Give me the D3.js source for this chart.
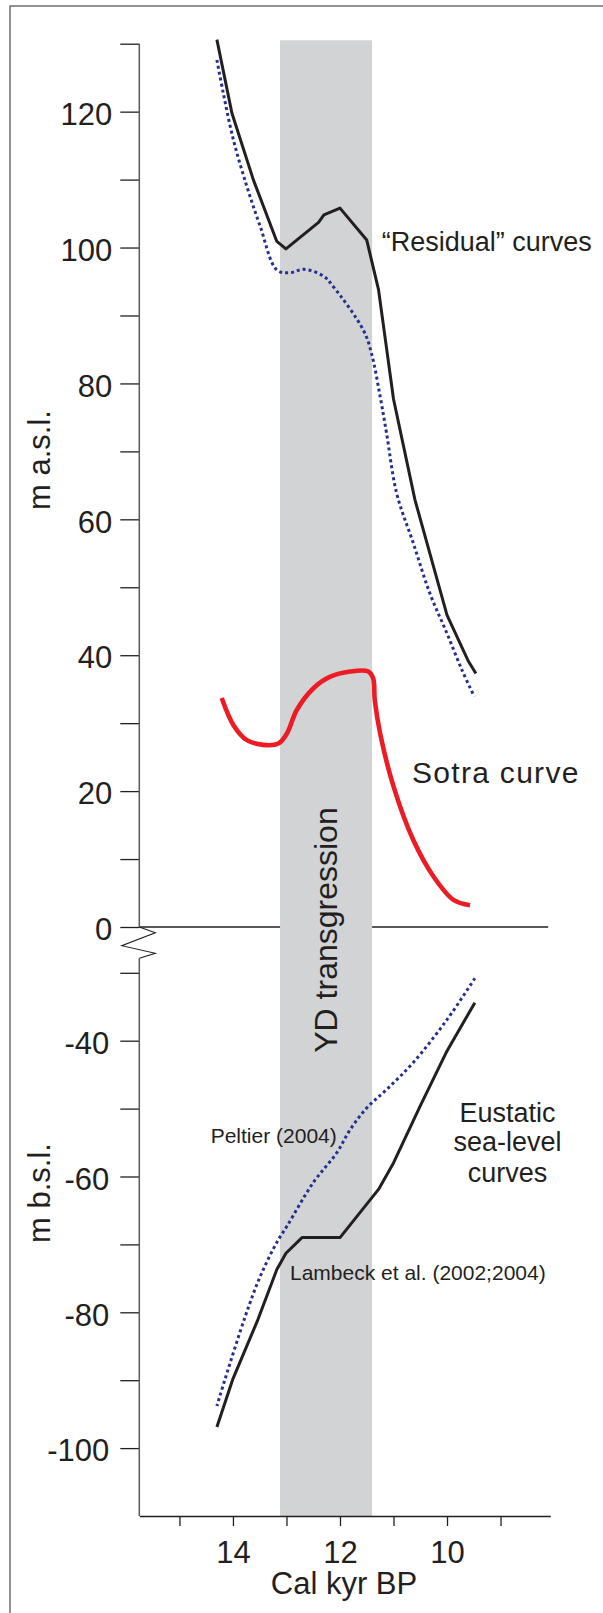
<!DOCTYPE html>
<html>
<head>
<meta charset="utf-8">
<script src="https://cdn.jsdelivr.net/npm/d3@7"></script>
<style>
  body { margin: 0; background: #fff; }
  svg { display: block; font-family: "Liberation Sans", Arial, Helvetica, sans-serif; }
  text { fill: #231f20; }
</style>
</head>
<body>
<svg id="chart" width="603" height="1613"></svg>
<script>
// ---- data (x: Cal kyr BP, y: metres) ----
const xTicks = [15, 14, 13, 12, 11, 10, 9];
const xTickLabels = [14, 12, 10];
const yUpperTicks = [0, 10, 20, 30, 40, 50, 60, 70, 80, 90, 100, 110, 120, 130];
const yUpperLabels = [0, 20, 40, 60, 80, 100, 120];
const yLowerTicks = [-30, -40, -50, -60, -70, -80, -90, -100];
const yLowerLabels = [-40, -60, -80, -100];
const ydBand = [13.12, 11.40];

const residualSolid = [
  [14.30, 130.6], [14.02, 119.8], [13.62, 110.0], [13.18, 100.9], [13.01, 99.8],
  [12.40, 103.7], [12.30, 104.8], [12.00, 105.8], [11.50, 101.1], [11.28, 93.8],
  [11.00, 77.7], [10.60, 62.9], [10.00, 45.9], [9.60, 39.1], [9.46, 37.3]
];
const residualDotted = [
  [14.30, 127.6], [14.18, 122.7], [13.99, 115.8], [13.74, 109.0], [13.49, 103.1],
  [13.18, 96.7], [12.93, 96.3], [12.68, 96.8], [12.31, 95.8], [12.12, 94.2],
  [11.56, 87.8], [11.41, 84.4], [11.25, 78.1], [11.13, 72.7], [10.94, 63.8],
  [10.63, 56.5], [10.32, 49.1], [10.00, 43.2], [9.72, 37.8], [9.49, 33.9]
];
const sotra = [
  [14.21, 33.7], [13.99, 29.7], [13.74, 27.5], [13.43, 26.8], [13.15, 27.0],
  [12.99, 28.5], [12.81, 31.9], [12.50, 35.1], [12.19, 36.8], [11.81, 37.6],
  [11.47, 37.6], [11.38, 36.6], [11.35, 33.4], [11.25, 28.5], [11.00, 20.7],
  [10.63, 12.8], [10.25, 7.4], [9.88, 4.0], [9.57, 3.2]
];
const peltier = [
  [9.48, -30.8], [10.00, -36.9], [10.63, -43.2], [11.13, -47.2], [11.50, -49.9],
  [11.81, -53.1], [12.06, -56.5], [12.50, -60.9], [12.99, -67.3], [13.18, -69.7],
  [13.49, -74.7], [13.77, -80.6], [14.15, -89.9], [14.30, -93.8]
];
const lambeck = [
  [9.48, -34.4], [10.00, -41.5], [10.50, -49.6], [11.00, -58.0], [11.28, -61.9],
  [12.00, -69.0], [12.71, -69.0], [13.01, -71.3], [13.18, -73.7], [13.53, -81.0],
  [14.00, -89.8], [14.30, -96.9]
];

// ---- scales ----
const x = d3.scaleLinear().domain([15.75, 8.07]).range([139.3, 550.3]);
const yUp = d3.scaleLinear().domain([0, 130]).range([927, 43.7]);
const yLow = d3.scaleLinear().domain([-110, -30]).range([1516, 972.8]);

const svg = d3.select("#chart");
const ink = "#231f20";
const navy = "#262f8f";

// frame (cropped at right and bottom)
svg.append("path")
  .attr("d", `M10,1613 V6 H603`)
  .attr("fill", "none").attr("stroke", "#6d6e71").attr("stroke-width", 1.5);

// zero line
svg.append("line")
  .attr("x1", x(15.75)).attr("x2", x(8.11))
  .attr("y1", yUp(0)).attr("y2", yUp(0))
  .attr("stroke", ink).attr("stroke-width", 1.3);

// YD band
svg.append("rect")
  .attr("x", x(ydBand[0])).attr("width", x(ydBand[1]) - x(ydBand[0]))
  .attr("y", yUp(130.5)).attr("height", yLow(-110) - yUp(130.5))
  .attr("fill", "#d1d3d4");

// YD label
svg.append("text")
  .attr("transform", `translate(${x((ydBand[0] + ydBand[1]) / 2) + 11},930) rotate(-90)`)
  .attr("text-anchor", "middle")
  .style("font-size", "32px")
  .text("YD transgression");

// y axes
const yAxisUp = svg.append("g").attr("transform", `translate(${x(15.75)},0)`)
  .call(d3.axisLeft(yUp).tickValues(yUpperTicks).tickSize(19).tickSizeOuter(0).tickPadding(8)
    .tickFormat(d => yUpperLabels.includes(d) ? d : ""));
const yAxisLow = svg.append("g").attr("transform", `translate(${x(15.75)},0)`)
  .call(d3.axisLeft(yLow).tickValues(yLowerTicks).tickSize(19).tickSizeOuter(0).tickPadding(11)
    .tickFormat(d => yLowerLabels.includes(d) ? d : ""));
[yAxisUp, yAxisLow].forEach(g => {
  g.select(".domain").remove();
  g.selectAll(".tick line").attr("stroke", ink).attr("stroke-width", 1.3);
  g.selectAll(".tick text").attr("dy", "0.41em").style("font-size", "31px")
    .style("font-family", "'Liberation Sans', Arial, sans-serif").attr("fill", ink);
});

// y axis line segments with break
const ax = x(15.75);
svg.append("line").attr("x1", ax).attr("x2", ax).attr("y1", yUp(130)).attr("y2", yUp(0))
  .attr("stroke", "#58595b").attr("stroke-width", 1.5);
svg.append("line").attr("x1", ax).attr("x2", ax).attr("y1", 958.3).attr("y2", yLow(-110))
  .attr("stroke", "#58595b").attr("stroke-width", 1.5);
svg.append("path")
  .attr("d", `M${ax},${yUp(0)} L${ax + 16},932.7 L${ax - 17.5},945.7 L${ax + 16},953.3 L${ax},958.3`)
  .attr("fill", "none").attr("stroke", ink).attr("stroke-width", 1.1);

// x axis
const xAxis = svg.append("g").attr("transform", `translate(0,${yLow(-110)})`)
  .call(d3.axisBottom(x).tickValues(xTicks).tickSize(10).tickSizeOuter(0).tickPadding(15)
    .tickFormat(d => xTickLabels.includes(d) ? d : ""));
xAxis.select(".domain").attr("stroke", ink).attr("stroke-width", 1.5);
xAxis.selectAll(".tick line").attr("stroke", ink).attr("stroke-width", 1.3);
xAxis.selectAll(".tick text").style("font-size", "31px")
  .style("font-family", "'Liberation Sans', Arial, sans-serif").attr("fill", ink);

// axis titles
svg.append("text").attr("x", 344).attr("y", 1594).attr("text-anchor", "middle")
  .style("font-size", "31px").text("Cal kyr BP");
svg.append("text").attr("transform", "translate(50,460) rotate(-90)").attr("text-anchor", "middle")
  .style("font-size", "31px").text("m a.s.l.");
svg.append("text").attr("transform", "translate(50,1193) rotate(-90)").attr("text-anchor", "middle")
  .style("font-size", "31px").text("m b.s.l.");

// curves
const lineUp = d3.line().x(d => x(d[0])).y(d => yUp(d[1]));
const lineLow = d3.line().x(d => x(d[0])).y(d => yLow(d[1]));

svg.append("path").datum(residualDotted)
  .attr("d", lineUp.curve(d3.curveCatmullRom.alpha(0.5)))
  .attr("fill", "none").attr("stroke", navy).attr("stroke-width", 3)
  .attr("stroke-dasharray", "3,3");
svg.append("path").datum(residualSolid)
  .attr("d", lineUp.curve(d3.curveLinear))
  .attr("fill", "none").attr("stroke", ink).attr("stroke-width", 3)
  .attr("stroke-linejoin", "round");
svg.append("path").datum(sotra)
  .attr("d", lineUp.curve(d3.curveCatmullRom.alpha(0.5)))
  .attr("fill", "none").attr("stroke", "#ed1c24").attr("stroke-width", 4.6)
  .attr("stroke-linejoin", "round");
svg.append("path").datum(peltier)
  .attr("d", lineLow.curve(d3.curveCatmullRom.alpha(0.5)))
  .attr("fill", "none").attr("stroke", navy).attr("stroke-width", 3)
  .attr("stroke-dasharray", "3,3");
svg.append("path").datum(lambeck)
  .attr("d", lineLow.curve(d3.curveLinear))
  .attr("fill", "none").attr("stroke", ink).attr("stroke-width", 3)
  .attr("stroke-linejoin", "round");

// annotations
svg.append("text").attr("x", 381.7).attr("y", 251).style("font-size", "27px")
  .text("\u201CResidual\u201D curves");
svg.append("text").attr("x", 412).attr("y", 783).style("font-size", "30px")
  .style("letter-spacing", "1.3px").text("Sotra curve");
const eu = svg.append("text").attr("text-anchor", "middle").style("font-size", "27px");
[["Eustatic", 1121.7], ["sea-level", 1150.5], ["curves", 1181.7]].forEach(([t, yy]) =>
  eu.append("tspan").attr("x", 507.5).attr("y", yy).text(t));
svg.append("text").attr("x", 210.7).attr("y", 1143.3).style("font-size", "21px")
  .text("Peltier (2004)");
svg.append("text").attr("x", 290).attr("y", 1280).style("font-size", "21px")
  .text("Lambeck et al. (2002;2004)");
</script>
</body>
</html>
